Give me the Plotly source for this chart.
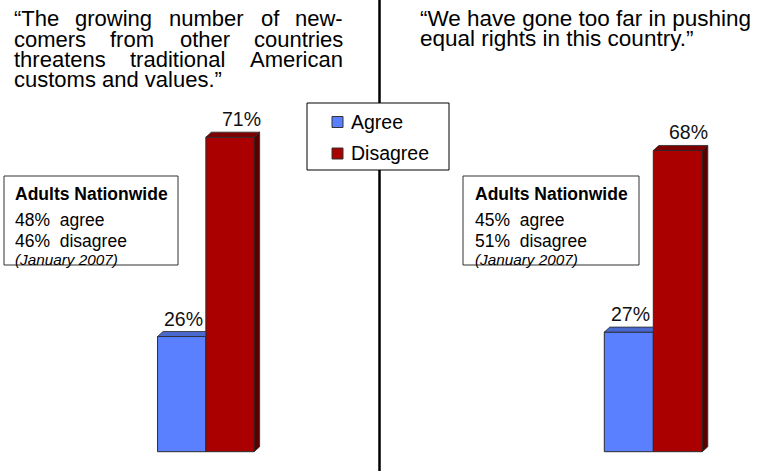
import plotly.graph_objects as go

# ---- data -------------------------------------------------------------
categories = ["Agree", "Disagree"]
left_values = [26, 71]
right_values = [27, 68]

left_nationwide = [48, 46]
right_nationwide = [45, 51]
survey_date = "(January 2007)"
box_title = "Adults Nationwide"

left_quote_lines = [
    ["\u201cThe", "growing", "number", "of", "new-"],
    ["comers", "from", "other", "countries"],
    ["threatens", "traditional", "American"],
    ["customs and values.\u201d"],
]
right_quote_lines = [
    "\u201cWe have gone too far in pushing",
    "equal rights in this country.\u201d",
]

# ---- style ------------------------------------------------------------
W, H = 761, 476
FONT = "Liberation Sans, Arial, Helvetica, sans-serif"
FRONT = ["#5A80FF", "#AA0000"]
TOP = ["#4A69CF", "#7C0000"]
SIDE = ["#3A52A8", "#560000"]
EDGE = "#2B2B2B"

PX_PER_PCT = 4.43          # vertical scale of the value axis
BASE_PX = 451.7            # baseline, pixels from top
DEPTH_X, DEPTH_Y = 5.5, 5  # 3-D extrusion in pixels

y_range = [-(H - BASE_PX) / PX_PER_PCT, BASE_PX / PX_PER_PCT]


def px(x):
    return x / W


def py(y):
    return 1 - y / H


panels = [
    dict(xaxis="x", values=left_values, center_px=181.7, unit_px=48.3),
    dict(xaxis="x2", values=right_values, center_px=628.8, unit_px=49.0),
]

fig = go.Figure()
annotations = []

for p in panels:
    vals = p["values"]
    dx = DEPTH_X / p["unit_px"]
    dy = DEPTH_Y / PX_PER_PCT
    p["range"] = [-p["center_px"] / p["unit_px"], (W - p["center_px"]) / p["unit_px"]]
    for i, v in enumerate(vals):
        fig.add_trace(go.Bar(
            x=[i], y=[v], width=1, xaxis=p["xaxis"], yaxis="y",
            marker=dict(color=FRONT[i], line=dict(color=EDGE, width=1)),
            name=categories[i], hoverinfo="skip",
        ))
        # a taller neighbour on the right hides the side and part of the top
        hidden = i + 1 < len(vals) and vals[i + 1] >= v
        right_edge = i + 0.5 if hidden else i + 0.5 + dx
        fig.add_trace(go.Scatter(
            x=[i - 0.5, i - 0.5 + dx, right_edge, i + 0.5, i - 0.5],
            y=[v, v + dy, v + dy, v, v],
            fill="toself", fillcolor=TOP[i], mode="lines",
            line=dict(color=EDGE, width=0.8),
            xaxis=p["xaxis"], yaxis="y", hoverinfo="skip",
        ))
        if not hidden:
            fig.add_trace(go.Scatter(
                x=[i + 0.5, i + 0.5 + dx, i + 0.5 + dx, i + 0.5, i + 0.5],
                y=[0, dy, v + dy, v, 0],
                fill="toself", fillcolor=SIDE[i], mode="lines",
                line=dict(color=EDGE, width=0.8),
                xaxis=p["xaxis"], yaxis="y", hoverinfo="skip",
            ))
        annotations.append(dict(
            xref=p["xaxis"], yref="y", x=i, y=v, text=f"{v}%",
            showarrow=False, yanchor="bottom", xanchor="center",
            yshift=5, xshift=2 if i == 0 else 11,
            font=dict(family=FONT, size=19.5, color="#111"),
        ))

# ---- quotations -------------------------------------------------------
TITLE_SIZE = 22
# justified block: first word flush left, last word flush right
left_layout = [
    [("left", 12), ("center", 113.2), ("center", 206.7), ("center", 270.7), ("right", 345)],
    [("left", 12), ("center", 131.9), ("center", 204.8), ("right", 345)],
    [("left", 12), ("center", 177.9), ("right", 345)],
    [("left", 12)],
]
for row, (words, slots) in enumerate(zip(left_quote_lines, left_layout)):
    baseline = 26.7 + row * 20.2
    for word, (anchor, xpos) in zip(words, slots):
        annotations.append(dict(
            xref="paper", yref="paper", x=px(xpos), y=py(baseline - 0.35 * TITLE_SIZE),
            text=word, showarrow=False, xanchor=anchor, yanchor="middle",
            font=dict(family=FONT, size=TITLE_SIZE, color="#000"),
        ))
RIGHT_TITLE_SIZE = 22.5
for row, line in enumerate(right_quote_lines):
    baseline = 26.7 + row * 19.5
    annotations.append(dict(
        xref="paper", yref="paper", x=px(418), y=py(baseline - 0.35 * RIGHT_TITLE_SIZE),
        text=line, showarrow=False, xanchor="left", yanchor="middle",
        font=dict(family=FONT, size=RIGHT_TITLE_SIZE, color="#000"),
    ))

# ---- nationwide boxes -------------------------------------------------
shapes = [
    dict(type="line", xref="paper", yref="paper", x0=px(379.5), x1=px(379.5),
         y0=py(0), y1=py(471), line=dict(color="#000", width=2.5)),
]
for box_x0, box_x1, text_x, nums in [(4, 178, 12.5, left_nationwide),
                                     (463, 639, 472.5, right_nationwide)]:
    shapes.append(dict(type="rect", xref="paper", yref="paper",
                       x0=px(box_x0), x1=px(box_x1), y0=py(176), y1=py(265),
                       line=dict(color="#333", width=1), fillcolor="white"))
    rows = [
        (box_title, 194, 17.5, "bold", "normal"),
        (f"{nums[0]}%\u00a0 agree", 220, 17.5, "normal", "normal"),
        (f"{nums[1]}%\u00a0 disagree", 241, 17.5, "normal", "normal"),
        (survey_date, 259.5, 15.3, "normal", "italic"),
    ]
    for text, yc, size, weight, style in rows:
        annotations.append(dict(
            xref="paper", yref="paper", x=px(text_x), y=py(yc), text=text,
            showarrow=False, xanchor="left", yanchor="middle",
            font=dict(family=FONT, size=size, color="#000", weight=weight, style=style),
        ))

# ---- legend -----------------------------------------------------------
shapes.append(dict(type="rect", xref="paper", yref="paper",
                   x0=px(307), x1=px(449), y0=py(103), y1=py(170),
                   line=dict(color="#000", width=1), fillcolor="white"))
for k, (name, yc) in enumerate(zip(categories, [122, 153.5])):
    shapes.append(dict(type="rect", xref="paper", yref="paper",
                       x0=px(332), x1=px(343), y0=py(yc - 5.5), y1=py(yc + 5.5),
                       line=dict(color="#333", width=1), fillcolor=FRONT[k]))
    annotations.append(dict(
        xref="paper", yref="paper", x=px(348.5), y=py(yc), text=name,
        showarrow=False, xanchor="left", yanchor="middle",
        font=dict(family=FONT, size=19.5, color="#000"),
    ))

fig.update_layout(
    width=W, height=H,
    margin=dict(l=0, r=0, t=0, b=0),
    paper_bgcolor="white", plot_bgcolor="white",
    showlegend=False, barmode="overlay",
    xaxis=dict(range=panels[0]["range"], visible=False, fixedrange=True),
    xaxis2=dict(range=panels[1]["range"], visible=False, fixedrange=True,
                overlaying="x", anchor="y"),
    yaxis=dict(range=y_range, visible=False, fixedrange=True),
    annotations=annotations,
    shapes=shapes,
)

fig.write_html("out.html")
